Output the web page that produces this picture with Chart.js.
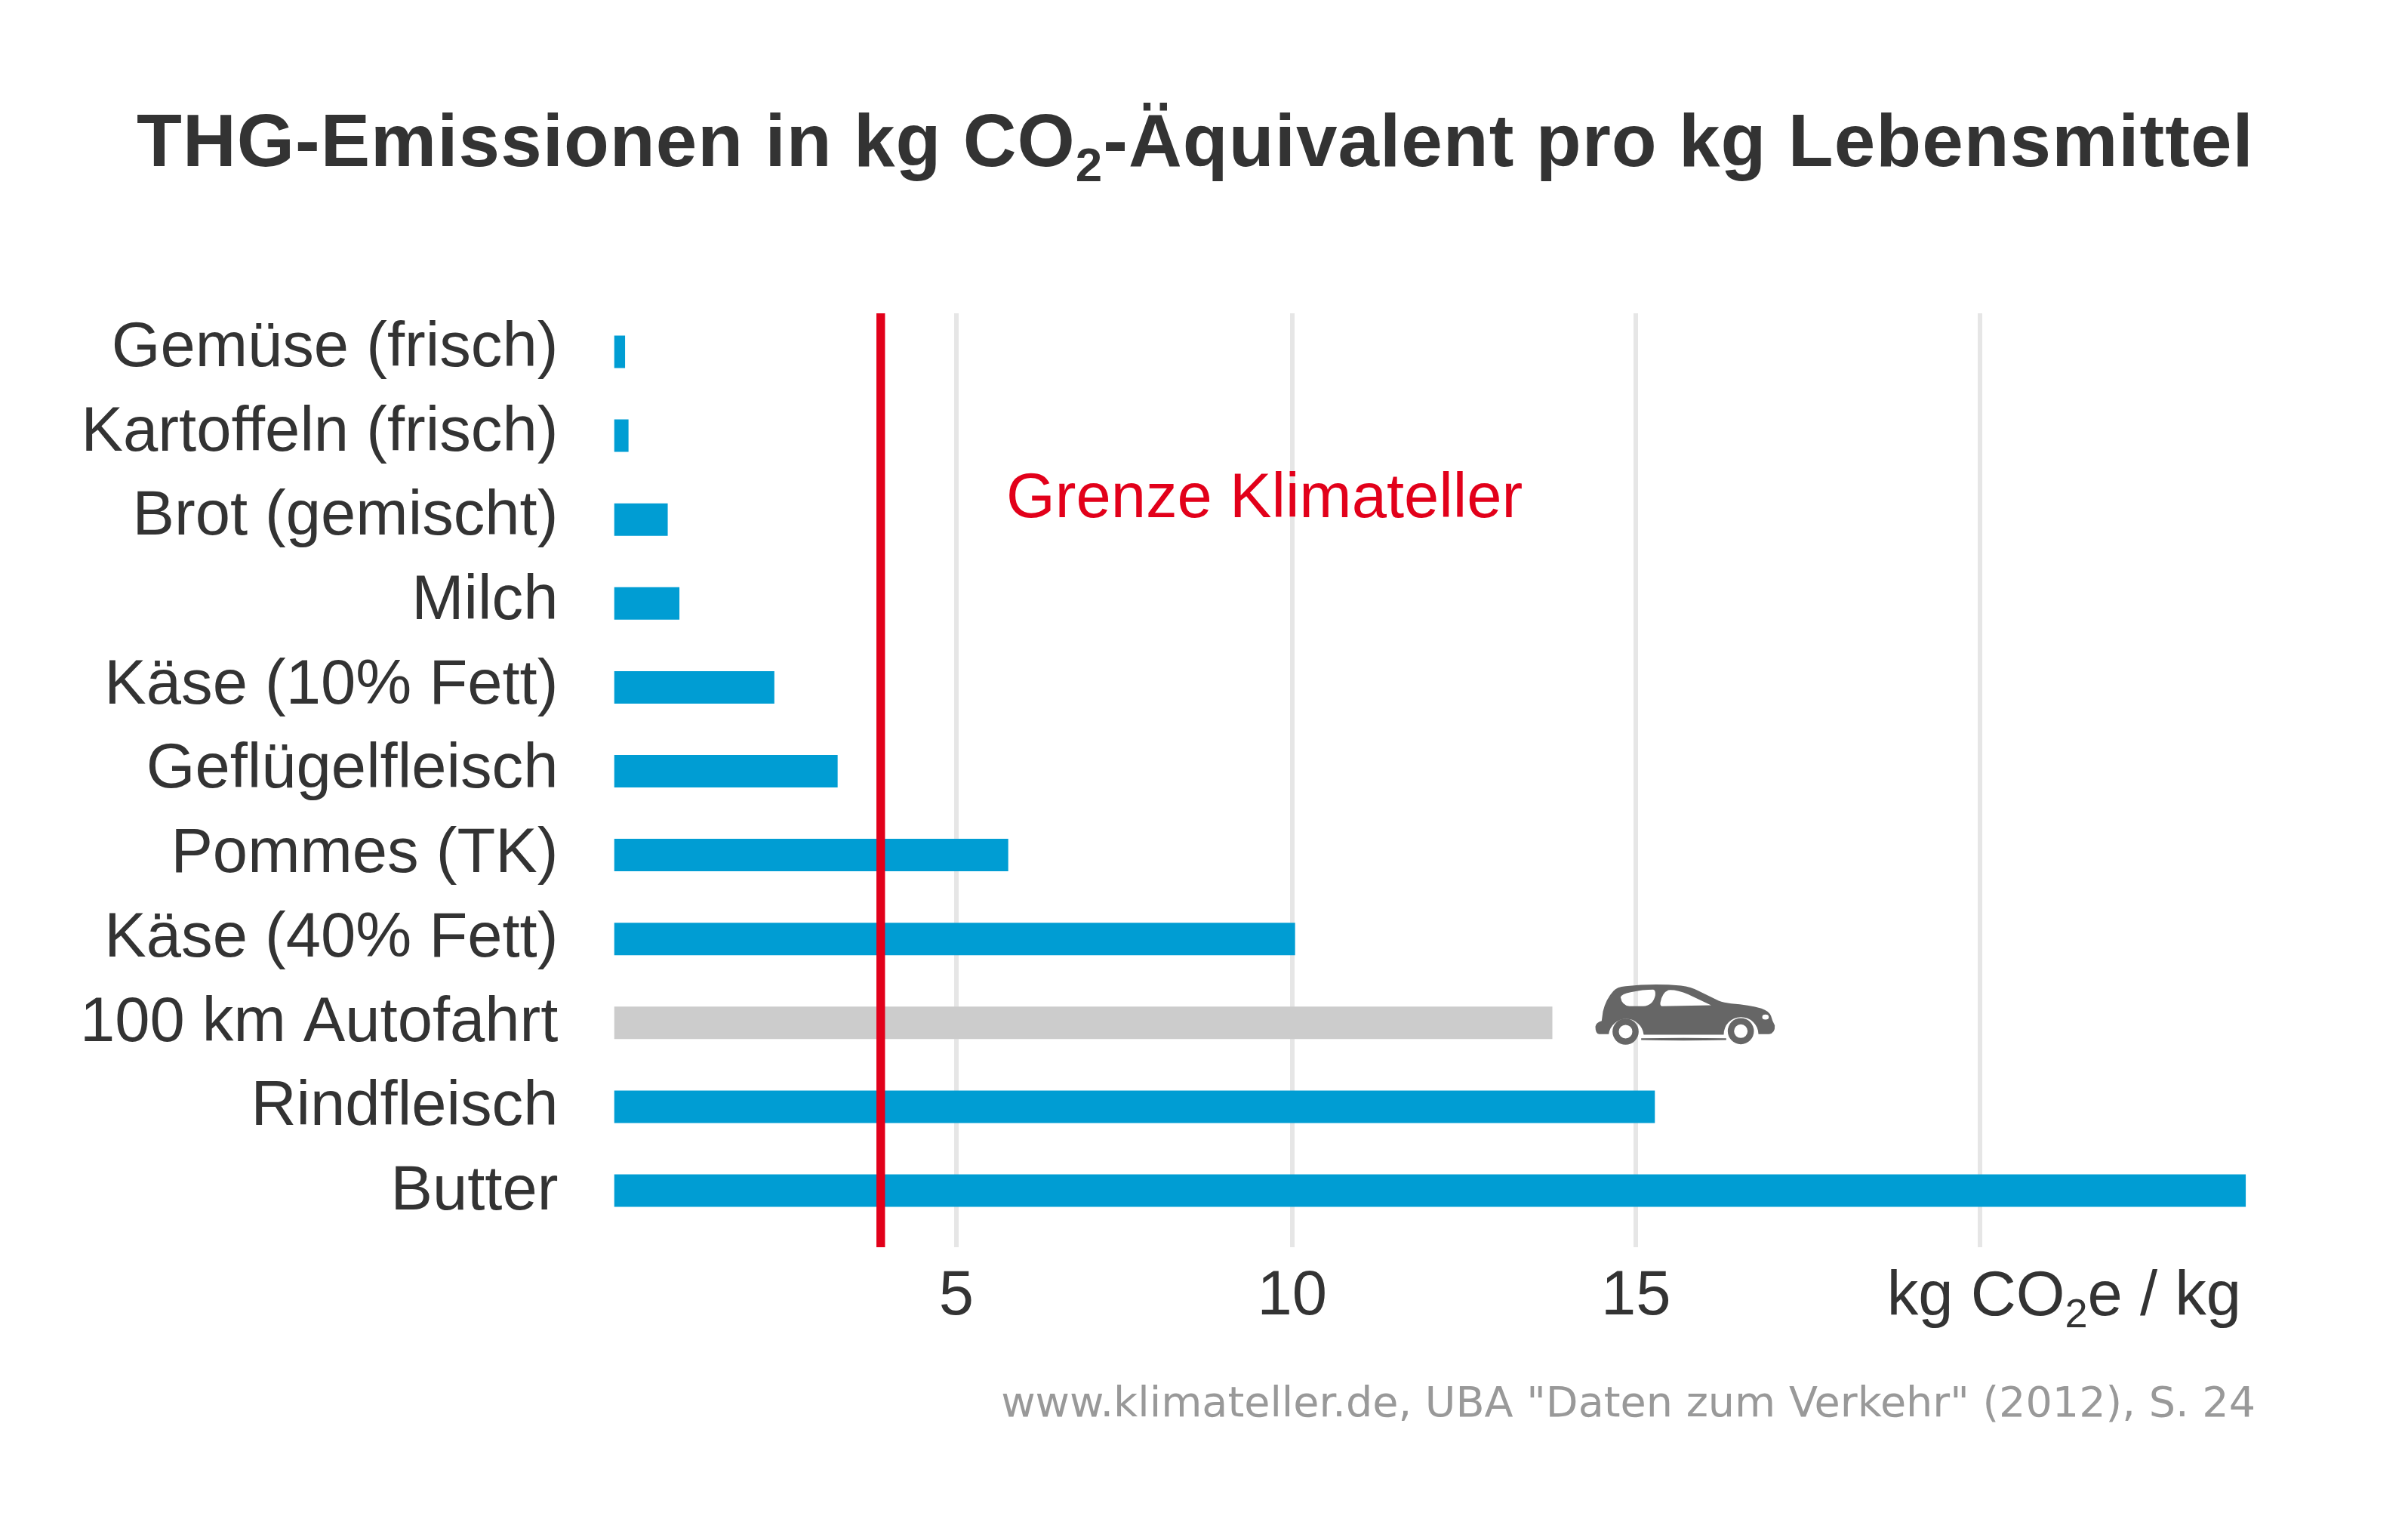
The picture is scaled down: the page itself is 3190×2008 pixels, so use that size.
<!DOCTYPE html>
<html>
<head>
<meta charset="utf-8">
<title>THG-Emissionen</title>
<script src="https://cdn.jsdelivr.net/npm/chart.js@4/dist/chart.umd.min.js"></script>
<style>
  html, body { margin: 0; background: #fff; }
  canvas { display: block; }
</style>
</head>
<body>
<canvas id="myChart" width="3190" height="2008"></canvas>
<script>
const categories = ['Gemüse (frisch)', 'Kartoffeln (frisch)', 'Brot (gemischt)', 'Milch', 'Käse (10% Fett)',
  'Geflügelfleisch', 'Pommes (TK)', 'Käse (40% Fett)', '100 km Autofahrt', 'Rindfleisch', 'Butter']
const emissions = [0.3, 0.35, 0.92, 1.09, 2.47, 3.39, 5.87, 10.04, 13.78, 15.27, 23.86]
// the bars start a little right of the zero of the axis in the original
const barStart = 0.15
// the 5 gridline sits a little off in the original
const xTickValues = [5.12, 10, 15, 20]
const xTickLabels = ['5', '10', '15', '']
const climateLimit = 4.02
const carIndex = 8
// the labels on the left are spaced a touch wider than the bars
const labelSpacing = 1.0054

const textColor = '#333333'
const sans = '"Liberation Sans"'
const labelSize = 83.2

// text runs, the second part of a run is the subscript flag
function drawRuns(ctx, runs, x, y, size, weight, color, align, spacing) {
  ctx.save()
  ctx.fillStyle = color
  ctx.textAlign = 'left'
  ctx.textBaseline = 'alphabetic'
  ctx.letterSpacing = (spacing || 0) + 'px'
  const width = runs.reduce((sum, [text, sub]) => {
    ctx.font = `${weight} ${sub ? size * 0.65 : size}px ${sans}`
    return sum + ctx.measureText(text).width
  }, 0)
  let left = align === 'right' ? x - width : x
  runs.forEach(([text, sub]) => {
    ctx.font = `${weight} ${sub ? size * 0.65 : size}px ${sans}`
    ctx.fillText(text, left, sub ? y + size * 0.2 : y)
    left += ctx.measureText(text).width
  })
  ctx.restore()
}

const carBody = new Path2D(`M190 300 Q192 283 215 277 L220 240 Q232 190 262 158 Q275 142 310 139 Q420 128 530 137
  Q570 142 600 158 L680 197 Q700 205 730 208 Q800 213 850 228 Q880 238 888 258 Q892 275 903 295 Q905 325 880 330
  L838 330 A68 68 0 0 0 700 332 L382 332 A70 70 0 0 0 243 330 L205 330 Q190 328 190 300 Z
  M290 183 Q295 170 330 163 Q380 153 420 153 Q430 155 428 175 Q420 215 380 219 L325 219 Q295 215 290 183 Z
  M448 205 Q455 165 480 155 Q510 152 560 172 L650 215 L455 219 Q447 218 448 205 Z
  M853 262 A13 10 0 1 0 879 262 A13 10 0 1 0 853 262 Z`)
const carWheels = new Path2D(`M258 320 A52 52 0 1 0 362 320 A52 52 0 1 0 258 320 Z M283 320 A27 27 0 1 1 337 320 A27 27 0 1 1 283 320 Z
  M716 318 A52 52 0 1 0 820 318 A52 52 0 1 0 716 318 Z M741 318 A27 27 0 1 1 795 318 A27 27 0 1 1 741 318 Z
  M372 346 Q540 343 710 346 L710 353 Q540 357 372 353 Z`)

const overlay = {
  id: 'overlay',
  afterDatasetsDraw(chart) {
    const {ctx, chartArea, scales: {x, y}} = chart

    // red limit line
    const limitX = x.getPixelForValue(climateLimit)
    ctx.save()
    ctx.strokeStyle = '#e2001a'
    ctx.lineWidth = 11.4
    ctx.beginPath()
    ctx.moveTo(limitX, chartArea.top)
    ctx.lineTo(limitX, chartArea.bottom)
    ctx.stroke()
    ctx.restore()

    // car next to the grey bar
    ctx.save()
    ctx.translate(x.getPixelForValue(emissions[carIndex]) - 6, y.getPixelForValue(carIndex) - 95)
    ctx.scale(1 / 3, 1 / 3)
    ctx.fillStyle = '#666666'
    ctx.fill(carBody, 'evenodd')
    ctx.fill(carWheels, 'evenodd')
    ctx.restore()

    drawRuns(ctx, [['THG-Emissionen in kg CO'], ['2', true], ['-Äquivalent pro kg Lebensmittel']],
      181, 220, 98, 'bold', textColor, 'left', 1.05)
    drawRuns(ctx, [['Grenze Klimateller']], 1333, 685, labelSize, 'normal', '#e2001a', 'left')
    drawRuns(ctx, [['kg CO'], ['2', true], ['e / kg']], 2969, 1741.7, labelSize, 'normal', textColor, 'right')

    ctx.save()
    ctx.font = '55.6px "DejaVu Sans"'
    ctx.fillStyle = '#999999'
    ctx.textAlign = 'right'
    ctx.fillText('www.klimateller.de, UBA "Daten zum Verkehr" (2012), S. 24', 2988, 1876)
    ctx.restore()
  }
}

new Chart(document.getElementById('myChart'), {
  type: 'bar',
  data: {
    labels: categories,
    datasets: [{
      data: emissions.map((value, i) => ({x: value, y: i})),
      base: barStart,
      backgroundColor: categories.map((c, i) => i === carIndex ? '#cccccc' : '#009dd3'),
      barThickness: 42.3,
      borderWidth: 0
    }]
  },
  options: {
    indexAxis: 'y',
    responsive: false,
    animation: false,
    devicePixelRatio: 1,
    layout: { padding: { top: 415, right: 202.5 } },
    plugins: { legend: { display: false }, tooltip: { enabled: false }, title: { display: false } },
    scales: {
      x: {
        min: 0,
        max: 24,
        afterBuildTicks: scale => { scale.ticks = xTickValues.map(value => ({value})) },
        afterFit: scale => { scale.height = 356 },
        border: { display: false },
        grid: { color: '#e6e6e6', lineWidth: 6, drawTicks: false },
        ticks: {
          autoSkip: false,
          maxRotation: 0,
          padding: 16.5,
          color: textColor,
          font: { family: sans, size: labelSize },
          callback: (value, i) => xTickLabels[i]
        }
      },
      y: {
        type: 'linear',
        reverse: true,
        offset: false,
        min: -0.459,
        max: 10.675,
        afterBuildTicks: scale => { scale.ticks = categories.map((c, i) => ({value: i * labelSpacing})) },
        afterFit: scale => { scale.width = 800.4 },
        border: { display: false },
        grid: { display: false, offset: false },
        ticks: {
          autoSkip: false,
          padding: 53,
          labelOffset: -4,
          color: textColor,
          font: { family: sans, size: labelSize },
          callback: (value, i) => categories[i]
        }
      }
    }
  },
  plugins: [overlay]
})
</script>
</body>
</html>
